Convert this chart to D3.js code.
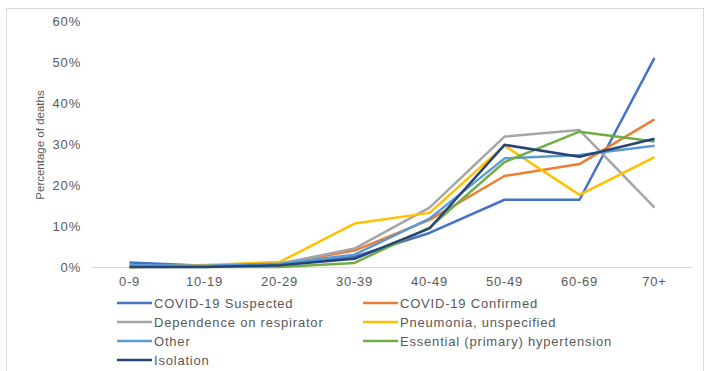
<!DOCTYPE html>
<html>
<head>
<meta charset="utf-8">
<script src="https://cdnjs.cloudflare.com/ajax/libs/d3/7.8.5/d3.min.js"></script>
<style>
  body { margin: 0; background: #fff; }
  svg { display: block; font-family: "Liberation Sans", Arial, sans-serif; }
</style>
</head>
<body>
<svg id="chart" width="705" height="371"></svg>
<script>
// age groups on the x axis
var ageGroups = ["0-9", "10-19", "20-29", "30-39", "40-49", "50-49", "60-69", "70+"];

// percentage of deaths per series
var covidSuspected = [1.1, 0.3, 0.8, 2.5, 8.3, 16.4, 16.4, 51];
var covidConfirmed = [0, 0.3, 0.8, 4, 11.5, 22.2, 25.1, 36];
var respirator     = [0, 0.3, 0.8, 4.5, 14.5, 31.8, 33.4, 14.5];
var pneumonia      = [0, 0.5, 1.2, 10.6, 13.2, 29.6, 17.6, 26.8];
var other          = [0.4, 0.3, 0.8, 3, 11.8, 26.5, 27.3, 29.6];
var hypertension   = [0, 0, 0, 1, 9.6, 25.6, 33, 30.6];
var isolation      = [0, 0, 0.4, 2, 9.4, 29.8, 26.9, 31.3];

var yTicks = [0, 10, 20, 30, 40, 50, 60];

var series = [
	{name: "COVID-19 Suspected", values: covidSuspected, color: "#4472C4"},
	{name: "COVID-19 Confirmed", values: covidConfirmed, color: "#ED7D31"},
	{name: "Dependence on respirator", values: respirator, color: "#A5A5A5"},
	{name: "Pneumonia, unspecified", values: pneumonia, color: "#FFC000"},
	{name: "Other", values: other, color: "#5B9BD5"},
	{name: "Essential (primary) hypertension", values: hypertension, color: "#70AD47"},
	{name: "Isolation", values: isolation, color: "#264478"}
];

var svg = d3.select("#chart");

// light frame around the figure
svg.append("rect")
	.attr("x", 6.5).attr("y", 8.5)
	.attr("width", 697).attr("height", 370)
	.attr("fill", "none")
	.attr("stroke", "#d9d9d9");

var x = d3.scaleBand().domain(ageGroups).range([92, 692]);
var y = d3.scaleLinear().domain([0, 60]).range([267, 21]);

function styleText(sel) {
	sel.attr("fill", "#595959")
		.attr("font-size", "13px")
		.attr("letter-spacing", "0.8px")
		.attr("font-family", "Liberation Sans, Arial, sans-serif");
}

// y axis: labels only, no line
var yAxis = svg.append("g")
	.attr("transform", "translate(84,0)")
	.call(d3.axisLeft(y).tickValues(yTicks).tickSize(0).tickFormat(function(d){ return d + "%"; }));
yAxis.select(".domain").remove();
yAxis.selectAll("text").call(styleText);

// x axis: baseline at 0%
var xAxis = svg.append("g")
	.attr("transform", "translate(0," + y(0) + ")")
	.call(d3.axisBottom(x).tickSize(0).tickPadding(10));
xAxis.select(".domain").attr("stroke", "#d9d9d9");
xAxis.selectAll("text").call(styleText);

svg.append("text")
	.attr("transform", "translate(44,145) rotate(-90)")
	.attr("text-anchor", "middle")
	.attr("fill", "#595959")
	.attr("font-size", "11.5px")
	.text("Percentage of deaths");

var line = d3.line()
	.x(function(d, i) { return x(ageGroups[i]) + x.bandwidth() / 2; })
	.y(function(d) { return y(d); });

svg.selectAll("path.series")
	.data(series)
	.enter()
	.append("path")
		.attr("class", "series")
		.attr("fill", "none")
		.attr("stroke", function(d) { return d.color; })
		.attr("stroke-width", 2.5)
		.attr("stroke-linejoin", "round")
		.attr("d", function(d) { return line(d.values); });

// legend, two columns
var legend = svg.selectAll("g.legend")
	.data(series)
	.enter()
	.append("g")
		.attr("class", "legend")
		.attr("transform", function(d, i) {
			var col = i % 2, row = Math.floor(i / 2);
			return "translate(" + (col ? 363 : 117) + "," + (303 + row * 19) + ")";
		});
legend.append("line")
	.attr("x1", 0).attr("x2", 35)
	.attr("stroke", function(d) { return d.color; })
	.attr("stroke-width", 2.5);
legend.append("text")
	.attr("x", 37)
	.attr("dy", "0.35em")
	.call(styleText)
	.text(function(d) { return d.name; });
</script>
</body>
</html>
